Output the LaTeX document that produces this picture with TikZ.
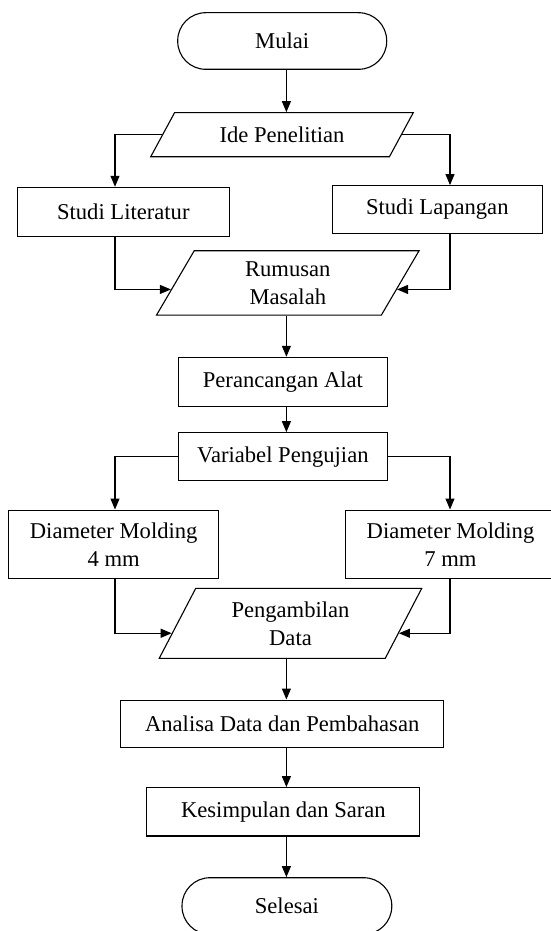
\documentclass[tikz,border=0pt]{standalone}
\usepackage{fontspec}
\setmainfont{Liberation Serif}
\usetikzlibrary{shapes.geometric, arrows.meta, calc}

\tikzset{
    chart/.style={draw, line width=1.1pt, align=center, inner sep=2pt,
        font=\fontsize{22.6}{28}\selectfont},
    startstop/.style={chart, rectangle, rounded corners=28pt,
        minimum width=209pt, minimum height=56.6pt},
    procbox/.style={chart, rectangle, minimum width=210pt},
    databox/.style={chart, trapezium, trapezium stretches body,
        minimum width=262.5pt},
    flow/.style={line width=1.1pt, -{Triangle[length=11pt, width=9pt]}}
}

\begin{document}
\begin{tikzpicture}[x=1pt, y=-1pt]
    \useasboundingbox (0, 0) rectangle (551, 931);
    % Columns of the connectors
    \coordinate (axis) at (286.4, 0);
    \coordinate (colL) at (115, 0);
    \coordinate (colR) at (450, 0);

    % Start
    \node[startstop] (mulai) at (282.2, 41) {Mulai};
    \node[databox, minimum height=44pt, trapezium left angle=39.9,
        trapezium right angle=140.1] (ide) at (282, 134.7) {Ide Penelitian};
    % Two studies
    \node[procbox, minimum width=212pt, minimum height=49.4pt] (lit)
        at (123.3, 212) {Studi Literatur};
    \node[procbox, minimum height=47.7pt] (lap)
        at (437.3, 209.5) {Studi Lapangan};
    \node[databox, minimum height=64.3pt, trapezium left angle=51.3,
        trapezium right angle=128.7] (rumusan) at (287.8, 282.9)
        {Rumusan\\Masalah};
    % Design and variables
    \node[procbox, minimum width=209.4pt, minimum height=49.4pt] (rancang)
        at (282.9, 382) {Perancangan Alat};
    \node[procbox, minimum width=209.4pt, minimum height=48pt] (variabel)
        at (282.9, 456.7) {Variabel Pengujian};
    \node[procbox, minimum height=68.3pt] (dfour)
        at (113.7, 544.2) {Diameter Molding\\4 mm};
    \node[procbox, minimum height=68.3pt] (dseven)
        at (450.5, 544.2) {Diameter Molding\\7 mm};
    \node[databox, minimum height=70pt, trapezium left angle=52.7,
        trapezium right angle=127.3] (ambil) at (290.5, 623.3)
        {Pengambilan\\Data};
    % Closing steps
    \node[procbox, minimum width=322.6pt, minimum height=47.3pt] (analisa)
        at (282.2, 723.7) {Analisa Data dan Pembahasan};
    \node[procbox, minimum width=273pt, minimum height=48.3pt] (simpul)
        at (283.4, 811.8) {Kesimpulan dan Saran};
    \node[startstop, minimum width=209.8pt] (selesai)
        at (286.9, 906) {Selesai};

    % Connectors
    \draw[flow] (mulai.south -| axis) -- (ide.north -| axis);
    \draw[flow] (ide.left side) -| (lit.north -| colL);
    \draw[flow] (ide.right side) -| (lap.north -| colR);
    \draw[flow] (lit.south -| colL)
        |- ($(rumusan.bottom left corner)!0.4!(rumusan.top left corner)$);
    \draw[flow] (lap.south -| colR)
        |- ($(rumusan.bottom right corner)!0.4!(rumusan.top right corner)$);
    \draw[flow] (rumusan.south -| axis) -- (rancang.north -| axis);
    \draw[flow] (rancang.south -| axis) -- (variabel.north -| axis);
    \draw[flow] (variabel.west) -| (dfour.north -| colL);
    \draw[flow] (variabel.east) -| (dseven.north -| colR);
    \draw[flow] (dfour.south -| colL)
        |- ($(ambil.bottom left corner)!0.36!(ambil.top left corner)$);
    \draw[flow] (dseven.south -| colR)
        |- ($(ambil.bottom right corner)!0.36!(ambil.top right corner)$);
    \draw[flow] (ambil.south -| axis) -- (analisa.north -| axis);
    \draw[flow] (analisa.south -| axis) -- (simpul.north -| axis);
    \draw[flow] (simpul.south -| axis) -- (selesai.north -| axis);
\end{tikzpicture}
\end{document}
